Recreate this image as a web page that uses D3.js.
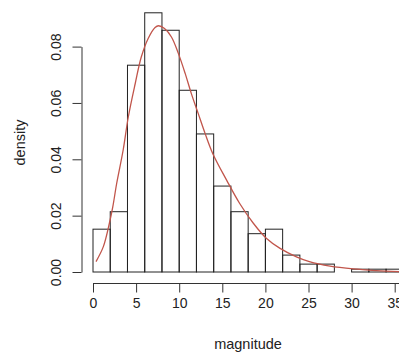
<!DOCTYPE html>
<html>
<head>
<meta charset="utf-8">
<script src="https://cdn.jsdelivr.net/npm/d3@7"></script>
<style>
  body { margin: 0; background: #fff; }
  text { font-family: "Liberation Sans", Arial, sans-serif; fill: #222; }
</style>
</head>
<body>
<div id="chart"></div>
<script>
// Histogram breaks and densities
const breaks = [0, 2, 4, 6, 8, 10, 12, 14, 16, 18, 20, 22, 24, 26, 28, 30, 32, 34, 36];
const densities = [0.0152, 0.0214, 0.0734, 0.092, 0.0858, 0.0645, 0.0490, 0.0305, 0.0214,
                   0.0136, 0.0152, 0.0060, 0.0028, 0.0028, 0, 0.0010, 0.0010, 0.0010];

// Fitted density curve
const curveX = [0.35, 1.2, 1.9, 2.3, 2.75, 3.5, 4.1, 4.9, 5.6, 6.4, 7.2, 7.6, 8.3, 9.1, 9.9,
                10.7, 11.4, 12.2, 13.0, 13.9, 15.5, 17.0, 18.6, 20.1, 21.7, 23.6, 25.1, 27.5,
                30.2, 32.9, 35.5];
const curveY = [0.0037, 0.009, 0.0173, 0.0232, 0.0315, 0.0433, 0.0551, 0.0669, 0.0763, 0.0829,
                0.0868, 0.0874, 0.0864, 0.0834, 0.0776, 0.0704, 0.0634, 0.0563, 0.0492, 0.042,
                0.0326, 0.0244, 0.0173, 0.012, 0.0084, 0.0054, 0.0037, 0.0021, 0.0011, 0.0005,
                0.0001];

const xTicks = [0, 5, 10, 15, 20, 25, 30, 35, 40];
const yTicks = [0, 0.02, 0.04, 0.06, 0.08];

const width = 399, height = 356;

const svg = d3.select("#chart")
    .append("svg")
    .attr("width", width)
    .attr("height", height);

// scales
const xScale = d3.scaleLinear().domain([0, 35]).range([93, 394.7]);
const yScale = d3.scaleLinear().domain([0, 0.08]).range([272, 46.6]);

// bars
const bins = densities.map((d, i) => ({ x0: breaks[i], x1: breaks[i + 1], d: d }));
svg.selectAll(".bar")
    .data(bins)
    .enter()
    .append("rect")
    .attr("class", "bar")
    .attr("x", d => xScale(d.x0))
    .attr("width", d => xScale(d.x1) - xScale(d.x0))
    .attr("y", d => yScale(d.d))
    .attr("height", d => yScale(0) - yScale(d.d))
    .attr("fill", "none")
    .attr("stroke", "#222")
    .attr("stroke-width", 1);

// density curve
const pts = curveX.map((x, i) => [x, curveY[i]]);
svg.append("path")
    .datum(pts)
    .attr("fill", "none")
    .attr("stroke", "#c1554b")
    .attr("stroke-width", 1.3)
    .attr("d", d3.line()
        .x(d => xScale(d[0]))
        .y(d => yScale(d[1]))
        .curve(d3.curveCatmullRom));

// x axis
const xAxis = d3.axisBottom(xScale)
    .tickValues(xTicks)
    .tickSize(9)
    .tickPadding(6)
    .tickSizeOuter(0);
const xAxisGroup = svg.append("g")
    .attr("transform", "translate(0,283.5)")
    .call(xAxis);
xAxisGroup.select(".domain").attr("d", `M${xScale(0)},0H${xScale(40)}`);

// y axis
const yAxis = d3.axisLeft(yScale)
    .tickValues(yTicks)
    .tickFormat(d3.format(".2f"))
    .tickSize(9)
    .tickSizeOuter(0);
const yAxisGroup = svg.append("g")
    .attr("transform", "translate(81.5,0)")
    .call(yAxis);

[xAxisGroup, yAxisGroup].forEach(g => {
    g.select(".domain").attr("stroke", "#333");
    g.selectAll(".tick line").attr("stroke", "#333");
    g.selectAll(".tick text")
        .attr("font-size", 14)
        .attr("font-family", "Liberation Sans, Arial, sans-serif")
        .attr("fill", "#222");
});

// rotate y tick labels like R
yAxisGroup.selectAll(".tick text")
    .attr("x", null)
    .attr("dy", null)
    .attr("text-anchor", "middle")
    .attr("transform", "translate(-20.5,0) rotate(-90)");

// axis titles
svg.append("text")
    .attr("text-anchor", "middle")
    .attr("x", 248)
    .attr("y", 349)
    .attr("font-size", 14.5)
    .text("magnitude");

svg.append("text")
    .attr("text-anchor", "middle")
    .attr("transform", "translate(24.5,142.5) rotate(-90)")
    .attr("font-size", 14.5)
    .text("density");
</script>
</body>
</html>
